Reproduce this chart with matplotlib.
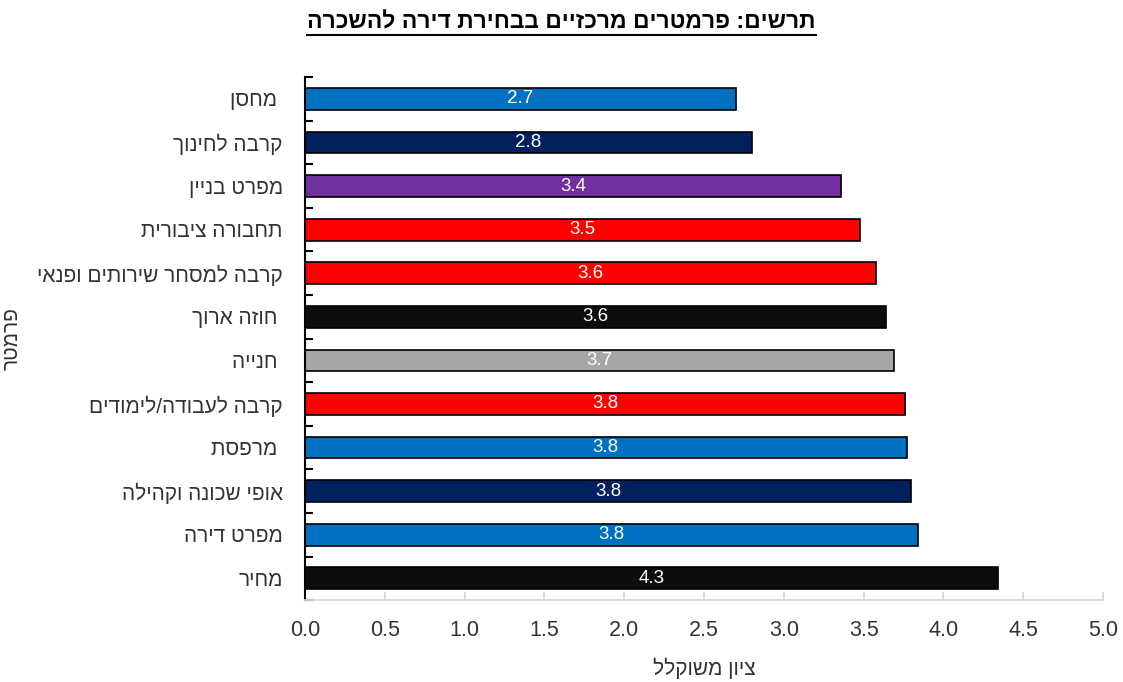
import matplotlib
matplotlib.use("Agg")
import matplotlib.pyplot as plt
from matplotlib.lines import Line2D

plt.rcParams['font.family'] = ['Liberation Sans', 'DejaVu Sans']

# data, bottom bar first (logical Hebrew order)
params = ["מחיר", "מפרט דירה", "אופי שכונה וקהילה", " מרפסת", "קרבה לעבודה/לימודים",
          " חנייה", " חוזה ארוך", "קרבה למסחר שירותים ופנאי", "תחבורה ציבורית",
          "מפרט בניין", "קרבה לחינוך", " מחסן"]
scores = [4.34, 3.84, 3.80, 3.77, 3.76, 3.69, 3.64, 3.58, 3.48, 3.36, 2.80, 2.70]
colors = ["#0D0D0D", "#0070C0", "#002060", "#0070C0", "#FF0000", "#A6A6A6",
          "#0D0D0D", "#FF0000", "#FF0000", "#7030A0", "#002060", "#0070C0"]
xticks = [0.0, 0.5, 1.0, 1.5, 2.0, 2.5, 3.0, 3.5, 4.0, 4.5, 5.0]

title = "תרשים: פרמטרים מרכזיים בבחירת דירה להשכרה"
xlabel = "ציון משוקלל"
ylabel = "פרמטר"


def rtl(s):
    # matplotlib has no bidi support, so lay Hebrew out visually
    return s[::-1]


fig = plt.figure(figsize=(11.23, 6.82), dpi=100)
ax = fig.add_axes([0.2716, 0.120, 0.7106, 0.767])

ypos = range(len(params))
bars = ax.barh(ypos, scores, height=0.5, color=colors, edgecolor="black", linewidth=1.2)
for b, v in zip(bars, scores):
    ax.text(b.get_width() / 2, b.get_y() + b.get_height() / 2, f"{v:.1f}",
            ha="center", va="center", color="white", fontsize=13.5)

ax.set_xlim(0, 5)
ax.set_ylim(-0.5, len(params) - 0.5)
ax.set_xticks(xticks)
ax.set_xticklabels([f"{t:.1f}" for t in xticks], fontsize=15.5, color="#333333",
                   family=['Liberation Sans Narrow', 'Liberation Sans', 'DejaVu Sans'])
ax.tick_params(axis="x", direction="in", length=6, width=1.3, color="#D9D9D9", pad=14)

ax.set_yticks(list(ypos))
ax.set_yticklabels([rtl(p) for p in params], fontsize=15, color="#333333")
ax.tick_params(axis="y", length=0, pad=16)
ax.set_yticks([i - 0.5 for i in range(len(params) + 1)], minor=True)
ax.tick_params(axis="y", which="minor", direction="in", length=6, width=1.5, color="black")

for s in ("top", "right"):
    ax.spines[s].set_visible(False)
ax.spines["left"].set_linewidth(1.5)
ax.spines["bottom"].set_color("#D9D9D9")
ax.spines["bottom"].set_linewidth(1.3)

ax.set_xlabel(rtl(xlabel), fontsize=15, color="#333333", labelpad=12)
ax.set_ylabel(rtl(ylabel), fontsize=15, color="#333333", rotation=90)
ax.yaxis.set_label_coords(-0.355, 0.5)

t = fig.text(0.5, 0.968, rtl(title), ha="center", va="center", fontsize=16.5,
             fontweight="bold", color="black")
fig.canvas.draw()
bb = t.get_window_extent().transformed(fig.transFigure.inverted())
fig.add_artist(Line2D([bb.x0, bb.x1], [bb.y0 - 0.002, bb.y0 - 0.002],
                      transform=fig.transFigure, color="black", linewidth=1.5))

fig.savefig("out.png", dpi=100)
